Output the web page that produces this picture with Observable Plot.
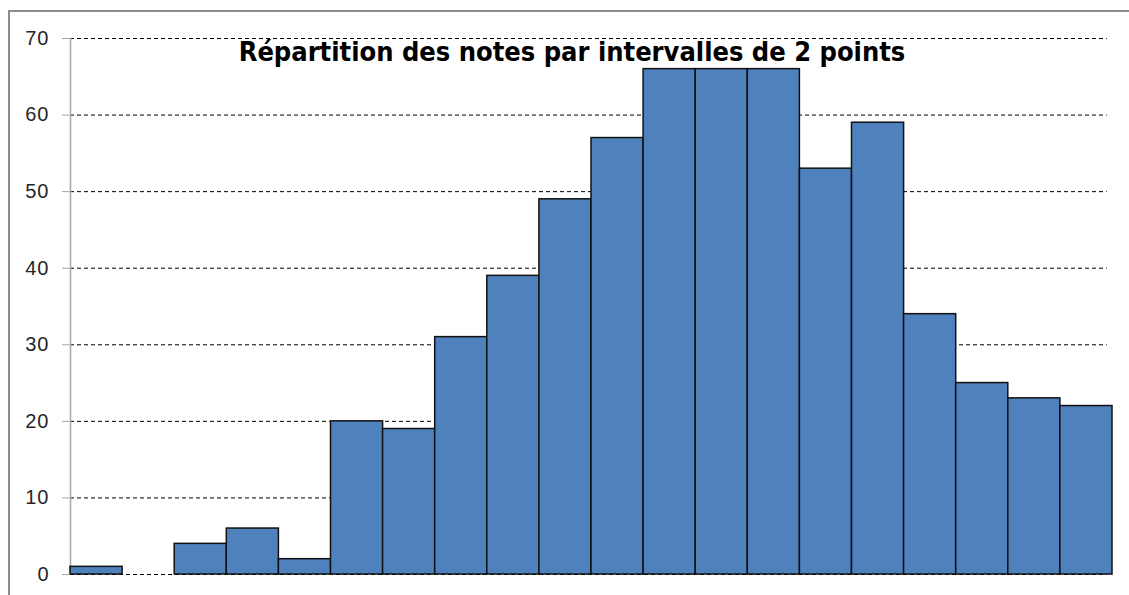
<!DOCTYPE html>
<html>
<head>
<meta charset="utf-8">
<script src="https://cdn.jsdelivr.net/npm/d3@7"></script>
<script src="https://cdn.jsdelivr.net/npm/@observablehq/plot@0.6"></script>
<style>
  html, body { margin: 0; padding: 0; background: #fff; overflow: hidden; }
  #wrap { position: relative; width: 1129px; height: 595px; }
  #frame { position: absolute; left: 8px; top: 10px; width: 1200px; height: 700px;
           border-left: 2px solid #8c8c8c; border-top: 2px solid #8c8c8c; box-sizing: border-box; }
  #chart { position: absolute; left: 0; top: 0; }
  #chart svg text { font-size: 20px !important; letter-spacing: 1px; font-family: 'Liberation Sans', Arial, sans-serif !important; }
  #title { position: absolute; left: 0; width: 1144px; top: 38px; text-align: center;
           font-family: 'Liberation Sans Narrow', 'DejaVu Sans Condensed', sans-serif;
           font-weight: bold; font-size: 27px; color: #000; line-height: 1; white-space: nowrap; }
</style>
</head>
<body>
<div id="wrap"><div id="frame"></div><div id="chart"></div><div id="title"></div></div>
<script>
const title = "Répartition des notes par intervalles de 2 points";
const binStarts = [0, 2, 4, 6, 8, 10, 12, 14, 16, 18, 20, 22, 24, 26, 28, 30, 32, 34, 36, 38];
const binWidth = 2;
const counts = [1, 0, 4, 6, 2, 20, 19, 31, 39, 49, 57, 66, 66, 66, 53, 59, 34, 25, 23, 22];
const yTicks = [0, 10, 20, 30, 40, 50, 60, 70];

const data = binStarts.map((s, i) => ({x1: s, x2: s + binWidth, count: counts[i]}));

const chart = Plot.plot({
  width: 1129,
  height: 595,
  marginLeft: 70,
  marginRight: 17,
  marginTop: 38,
  marginBottom: 21,
  style: {fontFamily: "'Liberation Sans', Arial, sans-serif", fontSize: "20px", color: "#262626", background: "transparent"},
  x: {domain: [0, 40], axis: null},
  y: {domain: [0, 70], ticks: yTicks, tickSize: 8, tickPadding: 13, label: null, tickFormat: d => d},
  marks: [
    Plot.gridY(yTicks, {stroke: "#000", strokeOpacity: 1, strokeWidth: 1, strokeDasharray: "4,3", x1: 0, x2: 39.8}),
    Plot.ruleX([0], {y1: 0, y2: 70, stroke: "#a6a6a6", strokeWidth: 1.5}),
    Plot.rectY(data, {filter: d => d.count > 0, x1: "x1", x2: "x2", y: "count", fill: "#4f81bd", stroke: "#111", strokeWidth: 1.5, inset: 0}),
    Plot.axisY({ticks: yTicks, tickSize: 8, tickPadding: 13, stroke: "#a6a6a6", fill: "#262626", fontSize: 20, tickFormat: d => d})
  ]
});
document.getElementById("chart").appendChild(chart);
document.getElementById("title").textContent = title;
</script>
</body>
</html>
